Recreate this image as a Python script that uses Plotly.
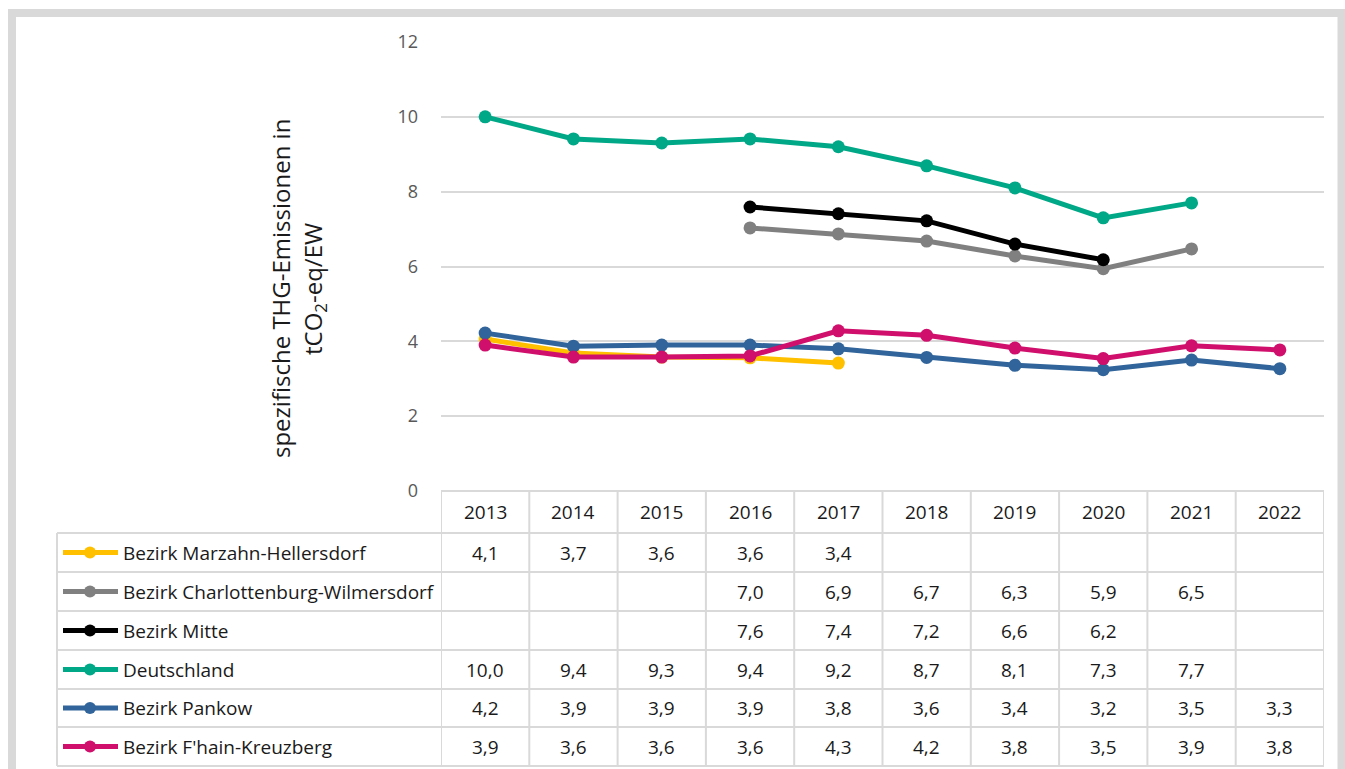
import plotly.graph_objects as go

years = ["2013", "2014", "2015", "2016", "2017", "2018", "2019", "2020", "2021", "2022"]
series_names = [
    "Bezirk Marzahn-Hellersdorf",
    "Bezirk Charlottenburg-Wilmersdorf",
    "Bezirk Mitte",
    "Deutschland",
    "Bezirk Pankow",
    "Bezirk F'hain-Kreuzberg",
]
marzahn = [4.06, 3.69, 3.58, 3.56, 3.42, None, None, None, None, None]
charlottenburg = [None, None, None, 7.03, 6.87, 6.68, 6.28, 5.94, 6.47, None]
mitte = [None, None, None, 7.59, 7.41, 7.22, 6.60, 6.18, None, None]
deutschland = [10.0, 9.41, 9.30, 9.41, 9.20, 8.69, 8.10, 7.30, 7.70, None]
pankow = [4.22, 3.87, 3.90, 3.90, 3.80, 3.57, 3.36, 3.24, 3.50, 3.27]
fhain = [3.90, 3.58, 3.58, 3.61, 4.28, 4.16, 3.82, 3.54, 3.88, 3.77]
series_values = [marzahn, charlottenburg, mitte, deutschland, pankow, fhain]
colors = ["#FFC000", "#808080", "#000000", "#00A887", "#30649A", "#D00F6C"]
y_ticks = [0, 2, 4, 6, 8, 10, 12]

W, H = 1345, 769
L, R, T, B = 441, 1324, 42, 491


def px(x):
    return (x - L) / (R - L)


def py(y):
    return (B - y) / (B - T)


fig = go.Figure()
xs = list(range(len(years)))
for name, vals, col in zip(series_names, series_values, colors):
    fig.add_trace(go.Scatter(
        x=xs, y=vals, name=name, mode="lines+markers",
        line=dict(color=col, width=5),
        marker=dict(color=col, size=13),
        connectgaps=False, showlegend=False, hoverinfo="skip",
    ))

shapes = []
annotations = []
GRID = "#D9D9D9"

shapes.append(dict(type="rect", xref="paper", yref="paper",
                   x0=px(12), x1=px(1341.5), y0=py(900), y1=py(13),
                   line=dict(color="#D9D9D9", width=8), layer="below"))

row_tops = [533, 572, 611, 650, 689, 727, 766]
shapes.append(dict(type="line", xref="paper", yref="paper",
                   x0=px(L), x1=px(R), y0=py(B), y1=py(B),
                   line=dict(color=GRID, width=2)))
for yy in row_tops:
    shapes.append(dict(type="line", xref="paper", yref="paper",
                       x0=px(57), x1=px(R), y0=py(yy), y1=py(yy),
                       line=dict(color=GRID, width=2)))
shapes.append(dict(type="line", xref="paper", yref="paper",
                   x0=px(57), x1=px(57), y0=py(533), y1=py(766),
                   line=dict(color=GRID, width=2)))
for k in range(len(years) + 1):
    shapes.append(dict(type="line", xref="x", yref="paper",
                       x0=k - 0.5, x1=k - 0.5, y0=py(B), y1=py(766),
                       line=dict(color=GRID, width=2)))

FONT = "Open Sans"
TXT = "#1A1A1A"
for i, yr in enumerate(years):
    annotations.append(dict(x=i, y=py(512), xref="x", yref="paper", text=yr,
                            showarrow=False, font=dict(family=FONT, size=19, color=TXT),
                            xanchor="center", yanchor="middle"))

for r, (name, vals, col) in enumerate(zip(series_names, series_values, colors)):
    yc = (row_tops[r] + row_tops[r + 1]) / 2
    shapes.append(dict(type="line", xref="paper", yref="paper",
                       x0=px(63), x1=px(118), y0=py(yc), y1=py(yc),
                       line=dict(color=col, width=5)))
    shapes.append(dict(type="circle", xref="paper", yref="paper",
                       x0=px(84), x1=px(96), y0=py(yc + 6), y1=py(yc - 6),
                       fillcolor=col, line=dict(color=col, width=0)))
    annotations.append(dict(x=px(121), y=py(yc), xref="paper", yref="paper", text=name,
                            showarrow=False, font=dict(family=FONT, size=19, color=TXT),
                            xanchor="left", yanchor="middle"))
    for i, v in enumerate(vals):
        if v is None:
            continue
        annotations.append(dict(x=i, y=py(yc), xref="x", yref="paper",
                                text=f"{v:.1f}".replace(".", ","),
                                showarrow=False, font=dict(family=FONT, size=19, color=TXT),
                                xanchor="center", yanchor="middle"))

annotations.append(dict(x=px(280), y=py(289), xref="paper", yref="paper",
                        text="spezifische THG-Emissionen in", textangle=-90,
                        showarrow=False, font=dict(family=FONT, size=24, color=TXT),
                        xanchor="center", yanchor="middle"))
annotations.append(dict(x=px(314), y=py(289), xref="paper", yref="paper",
                        text="tCO<sub>2</sub>-eq/EW", textangle=-90,
                        showarrow=False, font=dict(family=FONT, size=24, color=TXT),
                        xanchor="center", yanchor="middle"))

fig.update_layout(
    width=W, height=H,
    margin=dict(l=L, r=W - R, t=T, b=H - B, pad=0),
    paper_bgcolor="white", plot_bgcolor="white",
    shapes=shapes, annotations=annotations,
    xaxis=dict(range=[-0.5, len(years) - 0.5], showticklabels=False, showgrid=False,
               zeroline=False, showline=False, ticks=""),
    yaxis=dict(range=[0, 12], tickvals=y_ticks, showgrid=True, gridcolor=GRID, gridwidth=1.5,
               zeroline=False, showline=False, ticks="", ticklabelstandoff=22,
               tickfont=dict(family=FONT, size=18, color="#595959")),
)

fig.write_html("out.html", config={"displayModeBar": False},
               post_script="document.body.style.margin='0';")
